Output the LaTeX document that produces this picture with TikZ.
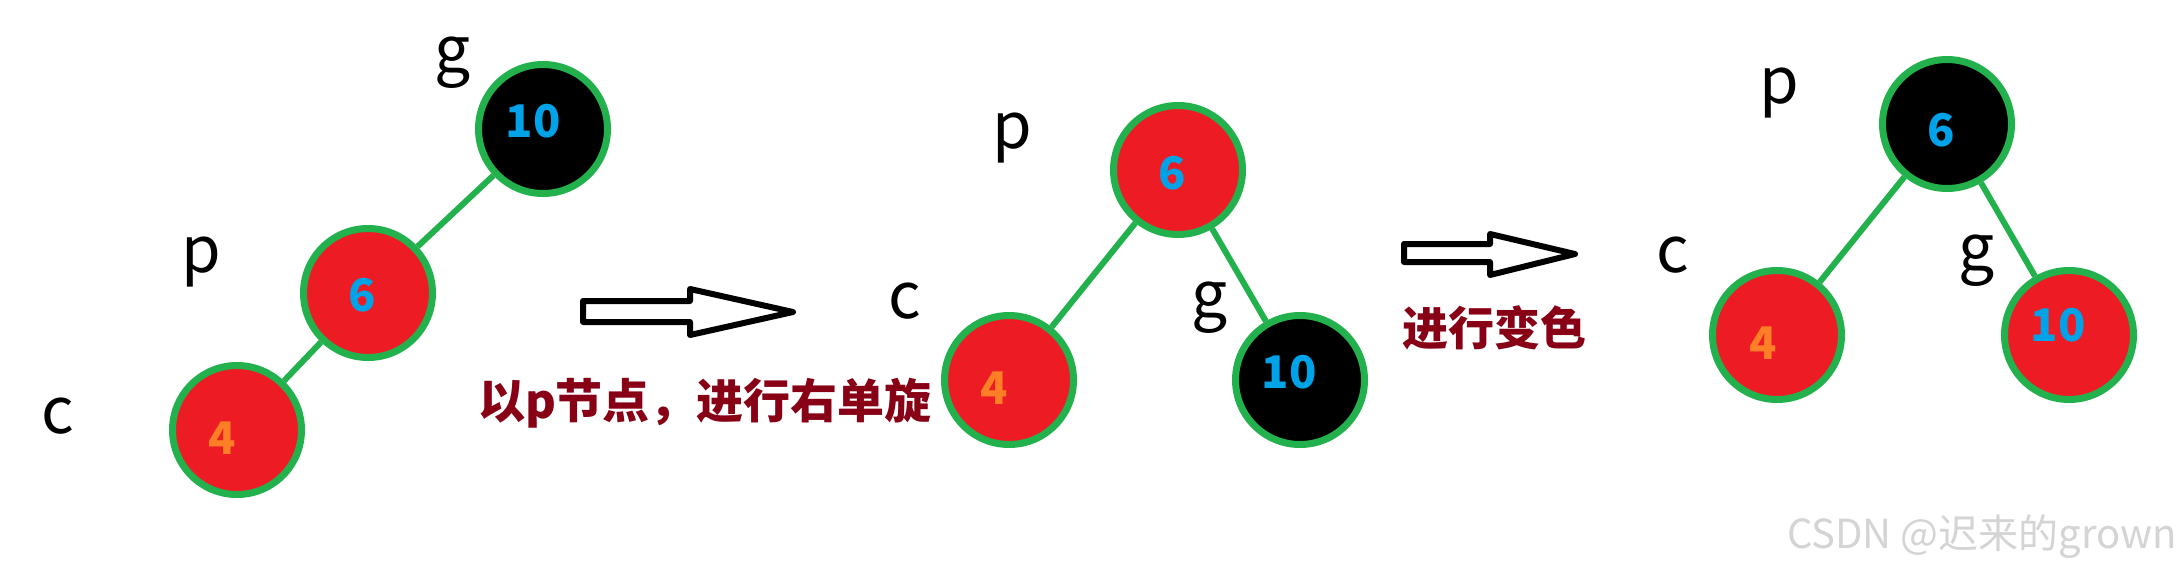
\documentclass[tikz,border=0pt]{standalone}
\usepackage{fontspec}
\setmainfont{Noto Sans CJK SC}
\definecolor{nred}{HTML}{ED1C24}
\definecolor{ngreen}{HTML}{22B14C}
\definecolor{nblue}{HTML}{00A2E8}
\definecolor{norange}{HTML}{FF7F27}
\definecolor{ndark}{HTML}{880015}
\definecolor{wmark}{HTML}{D4D4D4}
\begin{document}
\begin{tikzpicture}[x=1pt,y=-1pt,
  tnode/.style={circle,draw=ngreen,line width=7pt,minimum size=129pt,inner sep=0pt},
  rnode/.style={tnode,fill=nred},
  bnode/.style={tnode,fill=black},
  numtext/.style={font=\fontsize{45}{45}\selectfont\bfseries,text=nblue,inner sep=0pt},
  numorange/.style={numtext,text=norange},
  treeedge/.style={draw=ngreen,line width=6pt},
  labtext/.style={font=\fontsize{64}{64}\selectfont,text=black,inner sep=0pt,anchor=base},
  captext/.style={font=\fontsize{47}{47}\selectfont\bfseries,text=ndark,inner sep=0pt},
  blockarrow/.style={draw=black,fill=white,line width=6pt,line join=round}
]
\useasboundingbox (0,0) rectangle (2182,574);
\fill[white] (0,0) rectangle (2182,574);

% ---------- left tree ----------
\node[bnode] (g1) at (543,129) {};
\node[rnode] (p1) at (368,293) {};
\node[rnode] (c1) at (237,430) {};
\draw[treeedge] (g1) -- (p1);
\draw[treeedge] (p1) -- (c1);
\node[numtext]   (g1n) at ([shift={(-10,-8)}]g1.center) {10};
\node[numtext]   (p1n) at ([shift={(-6,2)}]p1.center) {6};
\node[numorange] (c1n) at ([shift={(-15,8)}]c1.center) {4};
\node[labtext] (lg1) at (453,72) {g};
\node[labtext] (lp1) at (201,272) {p};
\node[labtext] (lc1) at (58,433) {c};

% ---------- arrow 1 ----------
\draw[blockarrow] (583,301) -- (690,301) -- (690,289) -- (793,312) -- (690,335) -- (690,322) -- (583,322) -- cycle;
\node[captext] (t1) at (705,403) {以p节点，进行右单旋};

% ---------- middle tree ----------
\node[rnode] (p2) at (1178,170) {};
\node[rnode] (c2) at (1009,380) {};
\node[bnode] (g2) at (1300,380) {};
\draw[treeedge] (p2) -- (c2);
\draw[treeedge] (p2) -- (g2);
\node[numtext]   (p2n) at ([shift={(-6,3)}]p2.center) {6};
\node[numorange] (c2n) at ([shift={(-15,8)}]c2.center) {4};
\node[numtext]   (g2n) at ([shift={(-11,-8)}]g2.center) {10};
\node[labtext] (lp2) at (1012,148) {p};
\node[labtext] (lc2) at (905,318) {c};
\node[labtext] (lg2) at (1210,317) {g};

% ---------- arrow 2 ----------
\draw[blockarrow] (1404,244) -- (1490,244) -- (1490,234) -- (1575,254) -- (1490,275) -- (1490,262) -- (1404,262) -- cycle;
\node[captext,font=\fontsize{46}{46}\selectfont\bfseries] (t2) at (1494,328) {进行变色};

% ---------- right tree ----------
\node[bnode] (p3) at (1947,124) {};
\node[rnode] (c3) at (1777,335) {};
\node[rnode] (g3) at (2069,335) {};
\draw[treeedge] (p3) -- (c3);
\draw[treeedge] (p3) -- (g3);
\node[numtext]   (p3n) at ([shift={(-6,6)}]p3.center) {6};
\node[numorange] (c3n) at ([shift={(-14,8)}]c3.center) {4};
\node[numtext]   (g3n) at ([shift={(-11,-10)}]g3.center) {10};
\node[labtext] (lp3) at (1779,103) {p};
\node[labtext] (lc3) at (1673,272) {c};
\node[labtext] (lg3) at (1977,270) {g};

% ---------- watermark ----------
\node[font=\fontsize{40}{40}\selectfont,text=wmark,inner sep=0pt,anchor=east] (wm) at (2177,537) {CSDN @迟来的grown};
\end{tikzpicture}
\end{document}
